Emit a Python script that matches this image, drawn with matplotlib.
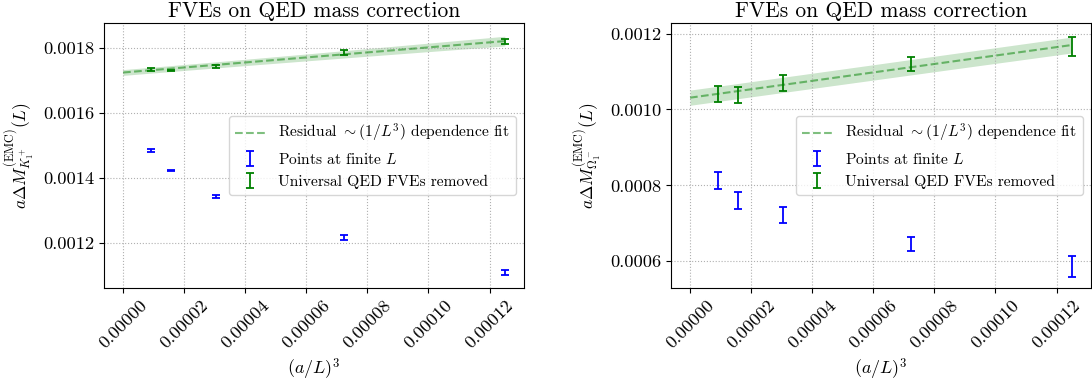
import numpy as np
import matplotlib
matplotlib.use("Agg")
import matplotlib.pyplot as plt

plt.rcParams['font.family'] = 'serif'
plt.rcParams['font.serif'] = ['cmr10']
plt.rcParams['mathtext.fontset'] = 'cm'
plt.rcParams['axes.formatter.use_mathtext'] = True
plt.rcParams['axes.unicode_minus'] = False

# (a/L)^3 for each volume
x_vals = [9.04e-6, 1.5625e-5, 3.05e-5, 7.23e-5, 1.25e-4]
x_ticks = [0, 2e-5, 4e-5, 6e-5, 8e-5, 1e-4, 1.2e-4]
x_ticklabels = ['0.00000', '0.00002', '0.00004', '0.00006', '0.00008',
                '0.00010', '0.00012']

# left panel: K_1^+
k_finite = [0.001484, 0.001423, 0.001342, 0.001216, 0.001108]
k_finite_err = [0.000004, 0.000002, 0.000004, 0.000008, 0.000008]
k_removed = [0.001735, 0.001731, 0.001743, 0.001786, 0.001822]
k_removed_err = [0.000005, 0.000002, 0.000005, 0.000008, 0.000008]
k_fit = (0.001725, 0.776)          # intercept, slope
k_fit_err = (0.000009, 0.096)
k_yticks = [0.0012, 0.0014, 0.0016, 0.0018]
k_yticklabels = ['0.0012', '0.0014', '0.0016', '0.0018']

# right panel: Omega_1^-
o_finite = [0.000813, 0.000760, 0.000722, 0.000645, 0.000586]
o_finite_err = [0.000022, 0.000022, 0.000020, 0.000018, 0.000027]
o_removed = [0.001040, 0.001037, 0.001070, 0.001120, 0.001166]
o_removed_err = [0.000021, 0.000021, 0.000021, 0.000018, 0.000026]
o_fit = (0.001031, 1.11)
o_fit_err = (0.000020, 0.05)
o_yticks = [0.0006, 0.0008, 0.0010, 0.0012]
o_yticklabels = ['0.0006', '0.0008', '0.0010', '0.0012']

ylabels = [r'$a\Delta M^{(\mathrm{EMC})}_{K_1^+}(L)$',
           r'$a\Delta M^{(\mathrm{EMC})}_{\Omega_1^-}(L)$']

fig, axes = plt.subplots(1, 2, figsize=(10.92, 3.88), dpi=100)
fig.subplots_adjust(left=0.0952, right=0.999, top=0.940, bottom=0.258, wspace=0.35)

panels = [(k_finite, k_finite_err, k_removed, k_removed_err, k_fit, k_fit_err),
          (o_finite, o_finite_err, o_removed, o_removed_err, o_fit, o_fit_err)]

for ax, (fin, fin_e, rem, rem_e, fit, fit_e), ylab in zip(axes, panels, ylabels):
    # fit line and its error band
    xs = np.linspace(0, max(x_vals), 100)
    yfit = fit[0] + fit[1] * xs
    band = np.sqrt(fit_e[0]**2 + (xs * fit_e[1])**2)
    ax.plot(xs, yfit, '--', color='green', alpha=0.5, lw=1.5,
            label=r'Residual $\sim(1/L^3)$ dependence fit')
    ax.fill_between(xs, yfit - band, yfit + band, color='green', alpha=0.2, lw=0)
    ax.errorbar(x_vals, fin, yerr=fin_e, fmt='none', ecolor='blue', capsize=3,
                elinewidth=1.3, capthick=1.3, label=r'Points at finite $L$')
    ax.errorbar(x_vals, rem, yerr=rem_e, fmt='none', ecolor='green', capsize=3,
                elinewidth=1.3, capthick=1.3, label='Universal QED FVEs removed')
    ax.set_title('FVEs on QED mass correction', fontsize=15.5, pad=4.5)
    ax.set_xlabel(r'$(a/L)^3$', fontsize=13)
    ax.set_ylabel(ylab, fontsize=12.5)
    ax.tick_params(labelsize=13.3, length=3.5)
    ax.set_xticks(x_ticks)
    ax.set_xticklabels(x_ticklabels, rotation=45)
    ax.grid(True, ls=':', color='#b0b0b0')
    ax.legend(loc='center right', fontsize=11.2)

axes[0].set_ylim(0.00106, 0.001877)
axes[0].set_yticks(k_yticks)
axes[0].set_yticklabels(k_yticklabels)
axes[1].set_ylim(0.00053, 0.001227)
axes[1].set_yticks(o_yticks)
axes[1].set_yticklabels(o_yticklabels)

plt.savefig('out.png', dpi=100)
